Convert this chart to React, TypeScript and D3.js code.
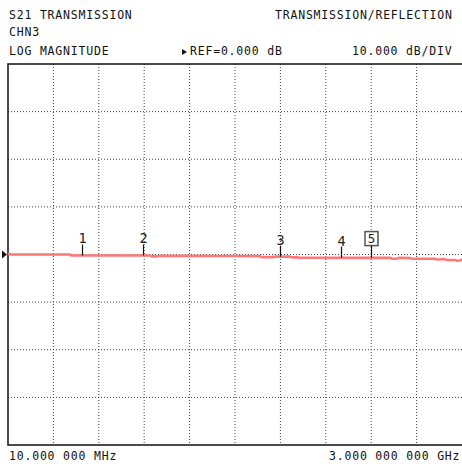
import React from "react";
import { scaleLinear, line, range } from "d3";

// trace (MHz, dB)
const traceFreq = [10, 30, 418, 425, 945, 958, 991, 1011, 1472, 1670, 1683, 1755, 1768, 1867, 1880, 1913, 1926, 2526, 2539, 2572, 2585, 2658, 2671, 2822, 2835, 2855, 2868, 2888, 2901, 2954, 2967, 2987, 3000];
const traceDb = [0.15, 0.0, 0.0, -0.2, -0.2, -0.4, -0.4, -0.25, -0.3, -0.35, -0.55, -0.55, -0.45, -0.45, -0.6, -0.6, -0.65, -0.7, -0.9, -0.9, -0.7, -0.75, -0.9, -0.9, -1.05, -1.05, -0.95, -1.0, -1.15, -1.15, -1.3, -1.25, -1.05];

const markerFreq = [500, 900, 1800, 2200, 2400];
const markerLabel = ["1", "2", "3", "4", "5"];
const activeMarker = 4;

const headerLeft = ["S21 TRANSMISSION", "CHN3", "LOG MAGNITUDE"];
const startLabel = "10.000 000 MHz";
const stopLabel = "3.000 000 000 GHz";

const W = 462;
const H = 468;
const font = "'DejaVu Sans Mono', monospace";

function interp(f: number) {
  for (let i = 1; i < traceFreq.length; i++) {
    if (f <= traceFreq[i]) return traceDb[i - 1];
  }
  return traceDb[traceDb.length - 1];
}

export default function App() {
  const x = scaleLinear().domain([10, 3000]).range([8, 462]);
  const y = scaleLinear().domain([-40, 40]).range([445, 64]);

  const vGrid = range(1, 10).map((i) => 10 + (i * 2990) / 10);
  const hGrid = range(-30, 40, 10);

  const pts = traceFreq.map((f, i) => [f, traceDb[i]] as [number, number]);
  const path = line<[number, number]>()
    .x((d) => x(d[0]))
    .y((d) => y(d[1]))(pts);

  const txt = { fontFamily: font, fontSize: 11.5, letterSpacing: 0.8, fill: "#111" };

  return (
    <svg width={W} height={H} style={{ position: "absolute", left: 0, top: 0, background: "#fff" }}>
      <rect x={0} y={0} width={W} height={H} fill="#fff" />

      {/* header */}
      <text x={9} y={19} {...txt}>{headerLeft[0]}</text>
      <text x={9} y={36} {...txt}>{headerLeft[1]}</text>
      <text x={9} y={55} {...txt}>{headerLeft[2]}</text>
      <text x={275} y={19} {...txt}>TRANSMISSION/REFLECTION</text>
      <path d="M182,49 L187,52 L182,55 Z" fill="#111" />
      <text x={190} y={55} {...txt}>REF=0.000 dB</text>
      <text x={352} y={55} {...txt}>10.000 dB/DIV</text>

      {/* grid */}
      {vGrid.map((f, i) => (
        <line key={"v" + i} x1={x(f)} x2={x(f)} y1={y(40)} y2={y(-40)} stroke="#444" strokeWidth={1} strokeDasharray="1 2" />
      ))}
      {hGrid.map((d, i) => (
        <line key={"h" + i} x1={x(10)} x2={W} y1={y(d)} y2={y(d)} stroke="#444" strokeWidth={1} strokeDasharray="1 2" />
      ))}

      {/* border */}
      <path d={`M${W},${y(40)} H${x(10)} V${y(-40)} H${W}`} fill="none" stroke="#111" strokeWidth={1.5} />

      {/* ref arrow */}
      <path d={`M2,${y(0) - 4} L7,${y(0)} L2,${y(0) + 4} Z`} fill="#111" />

      {/* trace */}
      <path d={path || ""} fill="none" stroke="#ff7878" strokeWidth={2.6} />

      {/* markers */}
      {markerFreq.map((f, i) => {
        const mx = Math.round(x(f)) + 0.5;
        const my = y(interp(f));
        const top = my - 12;
        if (i === activeMarker) {
          return (
            <g key={"m" + i}>
              <rect x={mx - 6.5} y={top - 14} width={13} height={14} fill="#fff" stroke="#555" strokeWidth={1.5} />
              <text x={mx} y={top - 3} textAnchor="middle" fontFamily={font} fontSize={12.5} fill="#222">{markerLabel[i]}</text>
              <line x1={mx} x2={mx} y1={top} y2={my} stroke="#111" strokeWidth={1.2} />
            </g>
          );
        }
        return (
          <g key={"m" + i}>
            <text x={mx} y={top} textAnchor="middle" fontFamily={font} fontSize={13.5} fill="#222">{markerLabel[i]}</text>
            <line x1={mx} x2={mx} y1={top + 1} y2={my} stroke="#111" strokeWidth={1.2} />
          </g>
        );
      })}

      {/* footer */}
      <text x={9} y={460} {...txt}>{startLabel}</text>
      <text x={329} y={460} {...txt}>{stopLabel}</text>
    </svg>
  );
}
